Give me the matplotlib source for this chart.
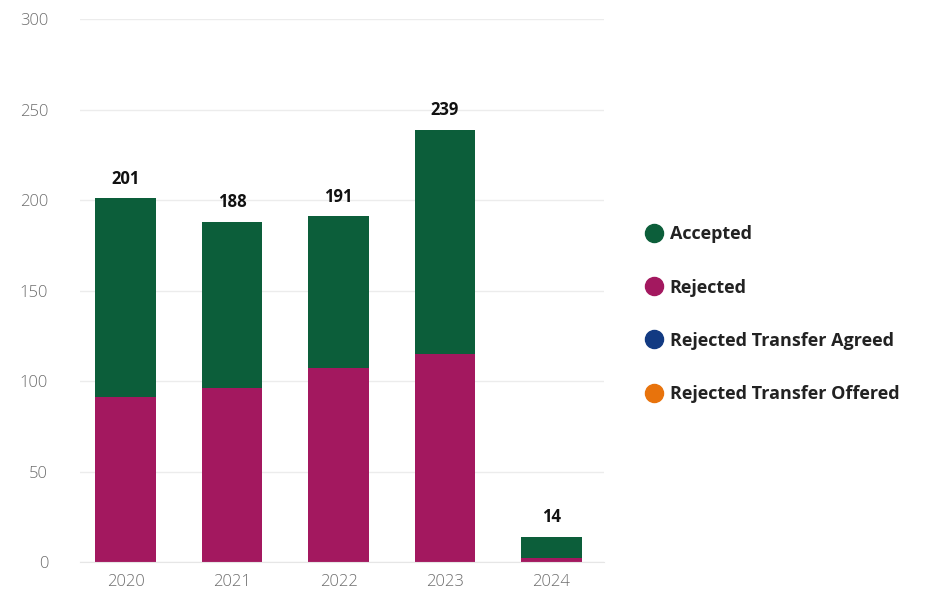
import matplotlib
matplotlib.use("Agg")
import matplotlib.pyplot as plt
from matplotlib.lines import Line2D

years = ["2020", "2021", "2022", "2023", "2024"]
rejected = [91, 96, 107, 115, 2]
accepted = [110, 92, 84, 124, 12]
totals = [201, 188, 191, 239, 14]
legend_labels = ["Accepted", "Rejected", "Rejected Transfer Agreed", "Rejected Transfer Offered"]
colors = ["#0c5e3a", "#a3185f", "#123a82", "#e8730c"]

plt.rcParams['font.family'] = ['Open Sans', 'DejaVu Sans']

fig = plt.figure(figsize=(9.25, 5.99), dpi=100)
ax = fig.add_axes([0.0865, 0.0618, 0.567, 0.906])

x = range(len(years))
ax.bar(x, rejected, width=0.57, color=colors[1], zorder=2)
ax.bar(x, accepted, width=0.57, bottom=rejected, color=colors[0], zorder=2)
for i, t in enumerate(totals):
    ax.text(i, t + 6, str(t), ha='center', va='bottom', fontsize=12,
            fontweight='bold', color='#111111', zorder=3)

ax.set_ylim(0, 300)
ax.set_xlim(-0.43, 4.5)
ax.set_yticks([0, 50, 100, 150, 200, 250, 300])
ax.set_xticks(list(x))
ax.set_xticklabels(years)
ax.yaxis.grid(True, color='#ececec', linewidth=1, zorder=0)
ax.set_axisbelow(True)
for s in ax.spines.values():
    s.set_visible(False)
ax.spines['bottom'].set_visible(True)
ax.spines['bottom'].set_color('#e6e6e6')
ax.tick_params(axis='both', length=0, colors='#6e6e6e', labelsize=12)
for lab in ax.get_xticklabels() + ax.get_yticklabels():
    lab.set_fontweight('light')
ax.tick_params(axis='y', pad=23)
ax.tick_params(axis='x', pad=9)

handles = [Line2D([0], [0], marker='o', linestyle='', markersize=13,
                  markerfacecolor=c, markeredgecolor=c) for c in colors]
leg = fig.legend(handles, legend_labels, loc='upper left', bbox_to_anchor=(0.68, 0.651),
                 frameon=False, labelspacing=1.95, handletextpad=0.35,
                 prop={'weight': 'bold', 'size': 13}, handlelength=1.0)
for t in leg.get_texts():
    t.set_color('#222222')

fig.savefig("out.png", dpi=100)
